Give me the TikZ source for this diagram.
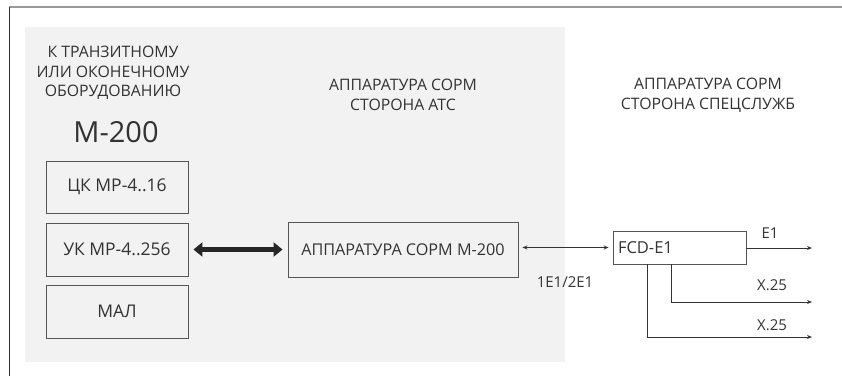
\documentclass[tikz,border=0pt]{standalone}
\usepackage{fontspec}
\setmainfont{Open Sans}
\usetikzlibrary{arrows.meta}
\definecolor{panel}{HTML}{F2F2F2}
\definecolor{ink}{HTML}{333333}
\definecolor{edge}{HTML}{555555}
\tikzset{
  box/.style={draw=edge, line width=0.9pt, fill=panel, inner sep=0pt, text=ink, font=\fontsize{17.5}{18}\selectfont},
  lbl/.style={text=ink, font=\fontsize{15.8}{19.5}\selectfont, inner sep=0pt, align=center},
  small/.style={text=ink, font=\fontsize{15}{18}\selectfont, inner sep=0pt},
  thin/.style={draw=ink, line width=1pt},
  tip/.style={-{Stealth[length=5pt,width=4pt]}},
}
\begin{document}
\begin{tikzpicture}[x=1pt,y=-1pt]
\useasboundingbox (0,0) rectangle (842,376);
\fill[white] (0,0) rectangle (842,376);
% frame
\draw[color=gray!80, line width=2pt] (9,7) -- (842,7);
\draw[color=ink, line width=0.8pt] (9,7) -- (9,376);
% panel
\fill[panel] (25,27) rectangle (565,362);
% headings
\node[lbl] (h1) at (113,73) {К ТРАНЗИТНОМУ\\ИЛИ ОКОНЕЧНОМУ\\ОБОРУДОВАНИЮ};
\node[lbl, font=\fontsize{29}{32}\selectfont] (m200) at (116,132) {M-200};
\node[lbl] (h2) at (403,95) {АППАРАТУРА СОРМ\\СТОРОНА АТС};
\node[lbl] (h3) at (708,95) {АППАРАТУРА СОРМ\\СТОРОНА СПЕЦСЛУЖБ};
% boxes
\node[box, minimum width=142pt, minimum height=52pt] (ck) at (117,187) {ЦК MP-4..16};
\node[box, minimum width=142pt, minimum height=53pt] (uk) at (117,249.5) {УК MP-4..256};
\node[box, minimum width=142pt, minimum height=53pt] (mal) at (117,311.5) {МАЛ};
\node[box, minimum width=230pt, minimum height=55pt, font=\fontsize{16.2}{18}\selectfont] (sorm) at (403,249.5) {АППАРАТУРА СОРМ M-200};
\node[box, fill=white, minimum width=133pt, minimum height=33pt, text width=123pt, align=left, font=\fontsize{16.5}{18}\selectfont] (fcd) at (679.5,247.5) {FCD-E1};
% thick arrow
\draw[draw=black!85, line width=5pt, {Triangle[length=9pt,width=14pt]}-{Triangle[length=9pt,width=14pt]}, shorten <=5pt, shorten >=5pt] (uk.east) -- (uk.east -| sorm.west);
% thin links
\draw[thin, {Stealth[length=5pt,width=4pt]}-{Stealth[length=5pt,width=4pt]}, shorten <=4pt, shorten >=4pt] (sorm.east |- fcd.west) -- (fcd.west);
\node[small] (l1) at (565,282) {1E1/2E1};
\coordinate (e1) at (812,248);
\coordinate (x1) at (812,302);
\coordinate (x2) at (812,337);
\draw[thin, tip] (fcd.east |- e1) -- (e1);
\draw[thin, tip] (671,264) -- (671,302) -- (x1);
\draw[thin, tip] (647,264) -- (647,337) -- (x2);
\node[small] (le1) at (770,233) {E1};
\node[small] (lx1) at (772,285) {X.25};
\node[small] (lx2) at (772,325) {X.25};
\end{tikzpicture}
\end{document}
